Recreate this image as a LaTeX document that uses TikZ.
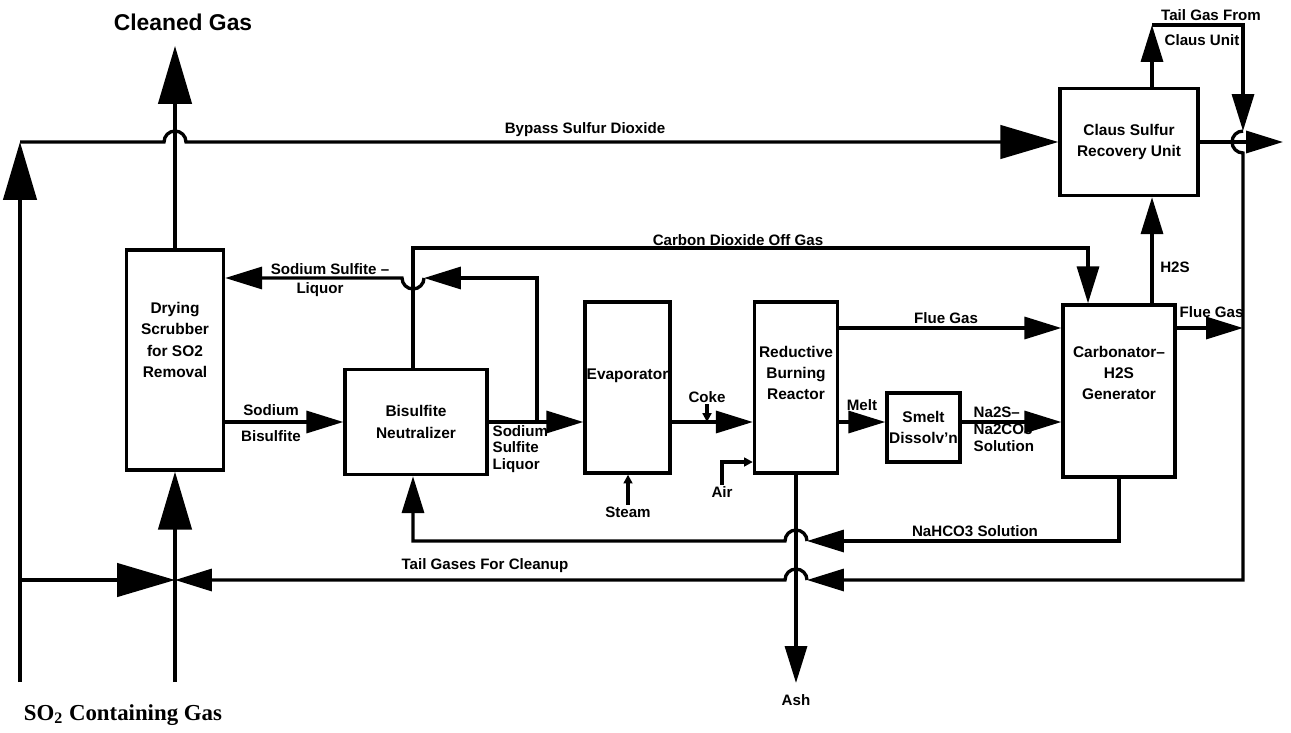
\documentclass[tikz,border=0pt]{standalone}
\usepackage{fontspec}
\setmainfont{Liberation Sans}
\newfontfamily\gasserif{Liberation Serif}
\usetikzlibrary{arrows.meta}

\begin{document}
\begin{tikzpicture}[x=0.2mm,y=0.2mm,line width=1.9pt]
    \tikzstyle{unit} = [draw, rectangle, inner sep=0pt, align=center, font=\bfseries\fontsize{8.8}{12}\selectfont]
    \tikzstyle{boxtext} = [inner sep=0pt, align=center, font=\bfseries\fontsize{8.8}{12}\selectfont]
    \tikzstyle{lbl} = [inner sep=0pt, align=center, font=\bfseries\fontsize{8.6}{9.6}\selectfont]
    \tikzstyle{bigflow} = [-{Triangle[length=33pt,width=19pt]}]
    \tikzstyle{midflow} = [-{Triangle[length=21pt,width=12.5pt]}]
    \tikzstyle{tinyflow} = [-{Triangle[length=5pt,width=5pt]}]

    \useasboundingbox (0,0) rectangle (1291,-733);

    % Process units
    \node[unit, minimum width=19.4mm, minimum height=44mm] (scrub) at (175,-360) {};
    \node[boxtext] (scrubtxt) at ([yshift=4mm]scrub.center) {Drying\\Scrubber\\for SO2\\Removal};
    \node[unit, minimum width=28.4mm, minimum height=21mm] (neut) at (416,-422) {Bisulfite\\Neutralizer};
    \node[unit, minimum width=17mm, minimum height=34.2mm] (evap) at (627.5,-387.5) {};
    \node[boxtext] (evaptxt) at ([yshift=2.4mm]evap.center) {Evaporator};
    \node[unit, minimum width=16.6mm, minimum height=34.2mm] (reac) at (796,-387.5) {};
    \node[boxtext] (reactxt) at ([yshift=2.9mm]reac.center) {Reductive\\Burning\\Reactor};
    \node[unit, minimum width=14.6mm, minimum height=13.8mm] (smelt) at (923.5,-427.5) {Smelt\\Dissolv'n};
    \node[unit, minimum width=22.4mm, minimum height=34.4mm] (carb) at (1119,-391) {};
    \node[boxtext] (carbtxt) at ([yshift=3.6mm]carb.center) {Carbonator--\\H2S\\Generator};
    \node[unit, minimum width=27.6mm, minimum height=21.4mm] (claus) at (1129,-142) {Claus Sulfur\\Recovery Unit};

    % Junctions and free ends
    \coordinate (srcL) at (20,-682);
    \coordinate (cornerL) at (20,-142);
    \coordinate (tapL) at (20,-580);
    \coordinate (srcM) at (175,-682);
    \coordinate (cross) at (175,-580);
    \coordinate (cleanTop) at (175,-46);
    \coordinate (clausTop) at (1152,-25);
    \coordinate (tgCorner) at (1243,-25);
    \coordinate (tgHop) at (1243,-131);
    \coordinate (tailR) at (1243,-580);
    \coordinate (exitR) at (1283,-142);
    \coordinate (flueOut) at (1243,-328);
    \coordinate (co2L) at (413,-248);
    \coordinate (co2R) at (1088,-248);
    \coordinate (recB) at (537,-422);
    \coordinate (recT) at (537,-278);
    \coordinate (nahR) at (1119,-541);
    \coordinate (nahL) at (413,-541);
    \coordinate (ashEnd) at (796,-683);
    \coordinate (airCorner) at (722,-462);

    % Labels
    \node[inner sep=0pt, font=\bfseries\fontsize{13}{15}\selectfont] (lclean) at (183,-22) {Cleaned Gas};
    \node[inner sep=0pt, font=\gasserif\bfseries\fontsize{13}{15}\selectfont] (lso2) at (123,-715) {SO\textsubscript{2} Containing Gas};
    \node[lbl] (lbypass) at (585,-130) {Bypass Sulfur Dioxide};
    \node[lbl] (lco2) at (738,-240) {Carbon Dioxide Off Gas};
    \node[lbl] (lsulf1) at (330,-269) {Sodium Sulfite --};
    \node[lbl] (lsulf2) at (320,-290) {Liquor};
    \node[lbl] (lbis1) at (271,-410) {Sodium};
    \node[lbl] (lbis2) at (271,-436) {Bisulfite};
    \node[lbl, anchor=west, align=left] (lliq) at (491,-449) {Sodium\\Sulfite\\Liquor};
    \node[lbl] (lcoke) at (707,-397) {Coke};
    \node[lbl] (lair) at (722,-492) {Air};
    \node[lbl] (lsteam) at (628,-512) {Steam};
    \node[lbl] (lmelt) at (862,-405) {Melt};
    \node[lbl] (lflue1) at (946,-318) {Flue Gas};
    \node[lbl, anchor=west] (lflue2) at (1178,-312) {Flue Gas};
    \node[lbl, anchor=west, align=left] (lna2s) at (972,-429) {Na2S--\\Na2CO3\\Solution};
    \node[lbl] (lh2s) at (1175,-267) {H2S};
    \node[lbl] (ltail1) at (1211,-15) {Tail Gas From};
    \node[lbl] (ltail2) at (1202,-40) {Claus Unit};
    \node[lbl] (lnahco3) at (975,-531) {NaHCO3 Solution};
    \node[lbl] (ltailgas) at (485,-566) {Tail Gases For Cleanup};
    \node[lbl] (lash) at (796,-700) {Ash};

    % SO2 feed and bypass
    \draw[bigflow] (srcL) -- (cornerL);
    \draw[bigflow] (cornerL) -- (164,-142) arc[start angle=180, end angle=0, radius=11] -- (claus.west);
    \draw[bigflow] (scrub.north) -- (cleanTop);
    \draw[bigflow] (srcM) -- (scrub.south);
    \draw[bigflow] (tapL) -- (cross);

    % Claus unit
    \draw[midflow] (claus.east) -- (exitR);
    \draw[midflow] (clausTop |- claus.north) -- (clausTop);
    \draw[midflow] (clausTop) -- (tgCorner) -- (tgHop);
    \draw[midflow] (tgHop) arc[start angle=90, end angle=270, radius=11] -- (tailR) -- (807,-580);
    \draw[midflow] (807,-580) arc[start angle=0, end angle=180, radius=11] -- (cross);
    \draw[midflow] (clausTop |- carb.north) -- (clausTop |- claus.south);

    % Carbonator gases
    \draw[midflow] (carb.east |- flueOut) -- (flueOut);
    \draw[midflow] (reac.east |- flueOut) -- (carb.west |- flueOut);
    \draw[midflow] (co2L |- neut.north) -- (co2L) -- (co2R) -- (co2R |- carb.north);

    % Liquor train
    \draw[midflow] (scrub.east |- neut.west) -- (neut.west);
    \draw[midflow] (neut.east) -- (evap.west |- neut.east);
    \draw[midflow] (recB) -- (recT) -- (424,-278);
    \draw[midflow] (424,-278) arc[start angle=0, end angle=-180, radius=11] -- (scrub.east |- recT);
    \draw[midflow] (evap.east |- neut.east) -- (reac.west |- neut.east);
    \draw[midflow] (reac.east |- neut.east) -- (smelt.west |- neut.east);
    \draw[midflow] (smelt.east |- neut.east) -- (carb.west |- neut.east);

    % NaHCO3 return
    \draw[midflow] (carb.south) -- (nahR) -- (807,-541);
    \draw[midflow] (807,-541) arc[start angle=0, end angle=180, radius=11] -- (nahL) -- (nahL |- neut.south);

    % Small feeds and ash
    \draw[tinyflow] (lcoke.south) -- (lcoke.south |- neut.east);
    \draw[tinyflow] (lair.north) -- (airCorner) -- (reac.west |- airCorner);
    \draw[tinyflow] (lsteam.north) -- (lsteam.north |- evap.south);
    \draw[midflow] (reac.south) -- (ashEnd);
\end{tikzpicture}
\end{document}
